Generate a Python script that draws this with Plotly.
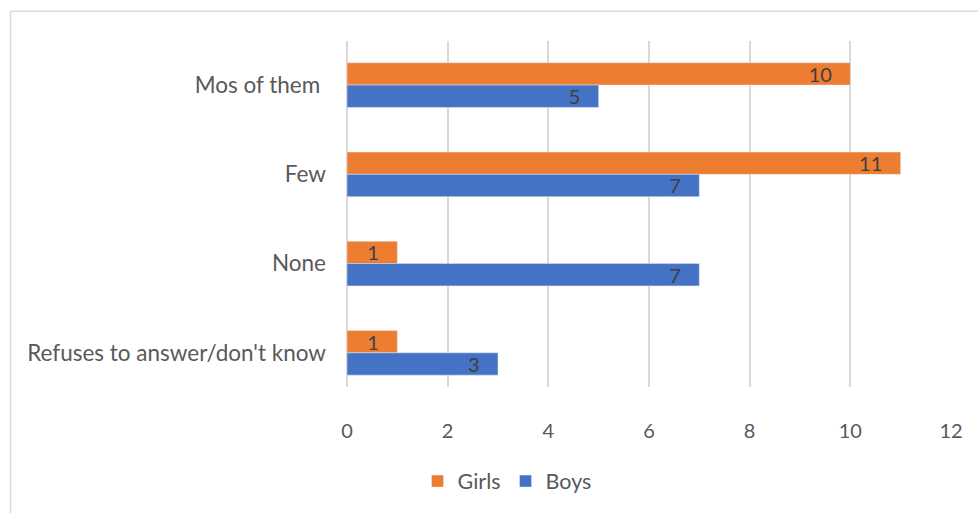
import plotly.graph_objects as go

categories = ["Mos of them ", "Few", "None", "Refuses to answer/don't know"]
girls = [10, 11, 1, 1]
boys = [5, 7, 7, 3]
x_ticks = [0, 2, 4, 6, 8, 10, 12]

ORANGE = "#ED7D31"
BLUE = "#4472C4"
FONT = "Lato"
PAD = "\u00a0\u00a0\u00a0"

fig = go.Figure()
for name, vals, col in [("Girls", girls, ORANGE), ("Boys", boys, BLUE)]:
    fig.add_trace(go.Bar(
        y=categories, x=vals, name=name, orientation="h",
        marker=dict(color=col), texttemplate="%{x}" + PAD,
        textposition="inside", insidetextanchor="end", textangle=0,
        constraintext="none",
        textfont=dict(color="#404040", size=20, family=FONT),
    ))

fig.update_layout(
    width=978, height=513,
    margin=dict(l=347, r=27, t=41, b=123),
    plot_bgcolor="white", paper_bgcolor="white",
    barmode="group", bargap=0.5, bargroupgap=0,
    font=dict(family=FONT, size=20, color="#595959"),
    xaxis=dict(range=[0, 12], tickvals=x_ticks, showgrid=True,
               gridcolor="#d9d9d9", gridwidth=1.5, zeroline=True,
               zerolinecolor="#d9d9d9", zerolinewidth=1.5,
               ticks="", ticklabelstandoff=30,
               tickfont=dict(size=20, color="#595959")),
    yaxis=dict(range=[3.383, -0.494], ticks="", ticklabelstandoff=20,
               tickfont=dict(size=22.5, color="#595959"), showline=False),
    legend=dict(orientation="h", x=0.265, xanchor="center", y=-0.272,
                yanchor="middle", font=dict(size=21.5, color="#595959"),
                traceorder="normal", itemwidth=30),
    showlegend=True,
    shapes=[dict(type="rect", xref="paper", yref="paper",
                 x0=-0.557, x1=1.2, y0=-0.5, y1=1.086,
                 line=dict(color="#d9d9d9", width=1.5), layer="below")],
)

fig.write_html("out.html")
